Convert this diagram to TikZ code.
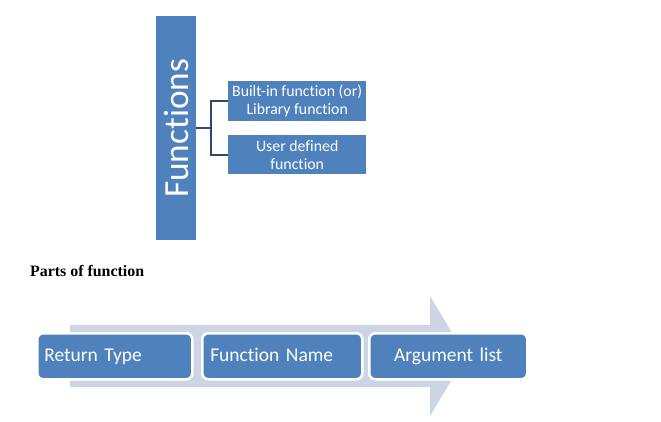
\documentclass[tikz,border=0pt]{standalone}
\usepackage{fontspec}
\setmainfont{Carlito}[Ligatures=NoCommon]
\newfontfamily\tnr{Liberation Serif}
\usetikzlibrary{positioning,calc}
\definecolor{boxblue}{RGB}{79,129,189}
\definecolor{arrowbg}{RGB}{205,213,229}
\definecolor{brkblue}{RGB}{44,74,110}

\begin{document}
\begin{tikzpicture}[x=1pt,y=-1pt,
    bx/.style={fill=boxblue,text=white,inner sep=0pt,anchor=north west},
    sub/.style={bx,minimum width=138pt,align=center,font=\fontsize{15.8}{18}\selectfont},
    pt/.style={bx,draw=white,line width=2.5pt,rounded corners=6pt,minimum height=46pt,
      text height=14pt,text depth=4pt,font=\fontsize{19.5}{22}\selectfont},
    brk/.style={draw=brkblue,line width=2pt}]
  \useasboundingbox (0,0) rectangle (661,421);
  % classification
  \node[bx,minimum width=40pt,minimum height=224pt] (fun) at (156,16) {};
  \node[text=white,rotate=90,font=\fontsize{35.3}{38}\selectfont] at (fun.center) {Functions};
  \node[sub,minimum height=40pt] (lib) at (228,81) {Built-in function (or)\\Library function};
  \node[sub,minimum height=39pt] (usr) at (228,135) {User defined\\function};
  \coordinate (br) at (211,128);
  \draw[brk] (lib.west) -| (br) |- (usr.west);
  \draw[brk] (br) -- (fun.east |- br);
  % parts
  \node[anchor=west,font=\tnr\bfseries\fontsize{15.9}{18}\selectfont,inner sep=0pt] (ttl) at (30,271) {Parts of function};
  \fill[arrowbg] (70,325) -- (430,325) -- (430,296) -- (466,356) -- (430,416) -- (430,387) -- (70,387) -- cycle;
  \node[pt,minimum width=155pt,text width=143pt,align=left] (ret) at (36,332) {\hspace*{1pt}Return Type};
  \node[pt,minimum width=160pt,text width=148pt,align=left] (nam) at (201,332) {\hspace*{2pt}Function Name};
  \node[pt,minimum width=158pt,text width=146pt,align=center] (arg) at (368,332) {Argument list};
\end{tikzpicture}
\end{document}
